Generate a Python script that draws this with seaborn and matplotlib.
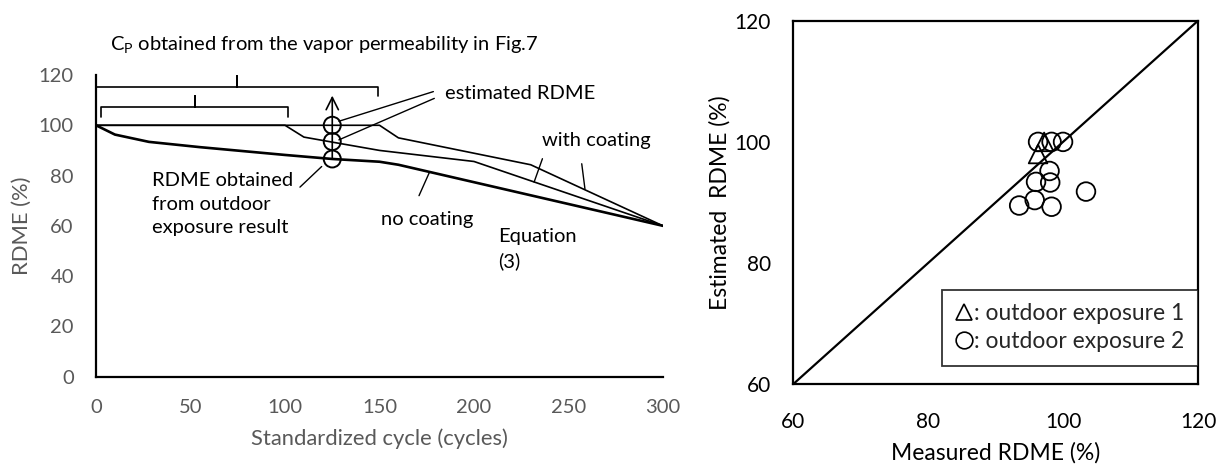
import matplotlib
matplotlib.use("Agg")
import matplotlib.pyplot as plt
import seaborn as sns
import pandas as pd
from matplotlib.lines import Line2D

sns.set_theme(style="white")
plt.rcParams["font.family"] = ["Lato", "DejaVu Sans"]

# ---------------- data: left panel ----------------
cycle_nocoat = [0, 10, 28, 55, 100, 125, 150, 160, 300]
rdme_nocoat = [100, 96.3, 93.4, 91.3, 88.2, 86.6, 85.5, 84.3, 60]
cycle_coat1 = [0, 100, 110, 125, 150, 200, 300]
rdme_coat1 = [100, 100, 95.3, 93.3, 90, 85.6, 60]
cycle_coat2 = [0, 150, 160, 230, 300]
rdme_coat2 = [100, 100, 95, 84.3, 60]
est_cycle = [125, 125, 125]
est_rdme = [100, 93.5, 86.6]

left_xticks = [0, 50, 100, 150, 200, 250, 300]
left_yticks = [0, 20, 40, 60, 80, 100, 120]

# ---------------- data: right panel ----------------
meas_exp1 = [97.2, 96.3]
est_exp1 = [100.0, 98.0]
meas_exp2 = [96.3, 98.3, 100.0, 98.0, 96.0, 98.1, 95.8, 93.5, 98.3, 103.4]
est_exp2 = [100.0, 100.0, 100.0, 95.2, 93.4, 93.3, 90.4, 89.5, 89.3, 91.8]
diag_x = [60, 120]
diag_y = [60, 120]
right_ticks = [60, 80, 100, 120]
legend_labels = [": outdoor exposure 1", ": outdoor exposure 2"]

GRAY = "#595959"
FS = 14.5

fig = plt.figure(figsize=(12.28, 4.67), dpi=100)

# =============== left panel ===============
ax = fig.add_axes([0.0782, 0.1934, 0.4617, 0.646])
sns.lineplot(x=cycle_coat1, y=rdme_coat1, ax=ax, color="black", lw=1.2, sort=False)
sns.lineplot(x=cycle_coat2, y=rdme_coat2, ax=ax, color="black", lw=1.2, sort=False)
sns.lineplot(x=cycle_nocoat, y=rdme_nocoat, ax=ax, color="black", lw=1.9, sort=False)
sns.scatterplot(x=est_cycle, y=est_rdme, ax=ax, marker="o", s=150,
                facecolor="none", edgecolor="black", linewidth=1.4, zorder=5)

ax.set_xlim(0, 300)
ax.set_ylim(0, 120)
ax.set_xticks(left_xticks)
ax.set_yticks(left_yticks)
for s in ["top", "right"]:
    ax.spines[s].set_visible(False)
for s in ["left", "bottom"]:
    ax.spines[s].set_color("black")
    ax.spines[s].set_linewidth(1.6)
ax.tick_params(direction="in", length=6, width=1.4, color="black",
               labelcolor=GRAY, labelsize=FS, pad=16)
ax.set_xlabel("Standardized cycle (cycles)", color=GRAY, fontsize=15.8, labelpad=9)
ax.set_ylabel("RDME (%)", color=GRAY, fontsize=15.8, labelpad=5)

# arrow from the circles upwards
ax.annotate("", xy=(125, 111.8), xytext=(125, 86.6),
            arrowprops=dict(arrowstyle="->", lw=1.2, color="black", mutation_scale=22,
                            shrinkA=0, shrinkB=0))

# brackets
kw = dict(color="black", lw=1.2, clip_on=False)
ax.plot([0, 0, 74.6, 74.6, 74.6, 149.4, 149.4],
        [111.5, 115.3, 115.3, 119.6, 115.3, 115.3, 111.5], **kw)
ax.plot([2.6, 2.6, 52.2, 52.2, 52.2, 101.7, 101.7],
        [103.4, 107.3, 107.3, 111.6, 107.3, 107.3, 103.4], **kw)

# pointer lines
pk = dict(color="black", lw=1.0)
ax.plot([128.5, 178.5], [101.6, 113.4], **pk)
ax.plot([128.5, 179.0], [94.2, 110.7], **pk)
ax.plot([236.2, 231.8], [86.7, 77.4], **pk)
ax.plot([257.0, 258.7], [84.7, 74.7], **pk)
ax.plot([176.3, 170.9], [81.1, 72.0], **pk)
ax.plot([119.4, 107.9], [83.6, 75.4], **pk)

tk = dict(color="black", fontsize=FS, clip_on=False)
ax.text(7.4, 131.9, "C$_\\mathregular{P}$ obtained from the vapor permeability in Fig.7",
        ha="left", va="center", **tk)
ax.text(184.7, 112.7, "estimated RDME", ha="left", va="center", **tk)
ax.text(235.8, 94.0, "with coating", ha="left", va="center", **tk)
ax.text(150.6, 62.7, "no coating", ha="left", va="center", **tk)
ax.text(212.7, 50.7, "Equation\n(3)", ha="left", va="center", linespacing=1.45, **tk)
ax.text(29.6, 68.6, "RDME obtained\nfrom outdoor\nexposure result",
        ha="left", va="center", linespacing=1.45, **tk)

# =============== right panel ===============
ax2 = fig.add_axes([0.6458, 0.1771, 0.3298, 0.7786])
sns.lineplot(x=diag_x, y=diag_y, ax=ax2, color="black", lw=1.6)
sns.scatterplot(x=meas_exp2, y=est_exp2, ax=ax2, marker="o", s=180,
                facecolor="none", edgecolor="black", linewidth=1.3, zorder=4)
sns.scatterplot(x=meas_exp1, y=est_exp1, ax=ax2, marker="^", s=180,
                facecolor="none", edgecolor="black", linewidth=1.3, zorder=5)
ax2.set_xlim(60, 120)
ax2.set_ylim(60, 120)
ax2.set_xticks(right_ticks)
ax2.set_yticks(right_ticks)
for s in ax2.spines.values():
    s.set_color("black")
    s.set_linewidth(1.6)
ax2.tick_params(direction="in", length=6, width=1.4, color="black",
                labelcolor="black", labelsize=15, pad=16)
ax2.tick_params(axis="x", pad=20)
ax2.set_xlabel("Measured RDME (%)", color="black", fontsize=16.5, labelpad=7)
ax2.set_ylabel("Estimated  RDME (%)", color="black", fontsize=16.5, labelpad=3)

handles = [
    Line2D([], [], ls="none", marker="^", ms=12, mfc="none", mec="black", mew=1.2),
    Line2D([], [], ls="none", marker="o", ms=12, mfc="none", mec="black", mew=1.2),
]
leg = ax2.legend(handles, legend_labels,
                 loc="lower right", bbox_to_anchor=(1.0, 0.05), borderaxespad=0,
                 fontsize=16.5, handlelength=0.7, handletextpad=0.1,
                 frameon=True, fancybox=False, edgecolor="black",
                 borderpad=0.6, labelspacing=0.3)
leg.get_frame().set_linewidth(1.3)

fig.savefig("out.png", dpi=100)
